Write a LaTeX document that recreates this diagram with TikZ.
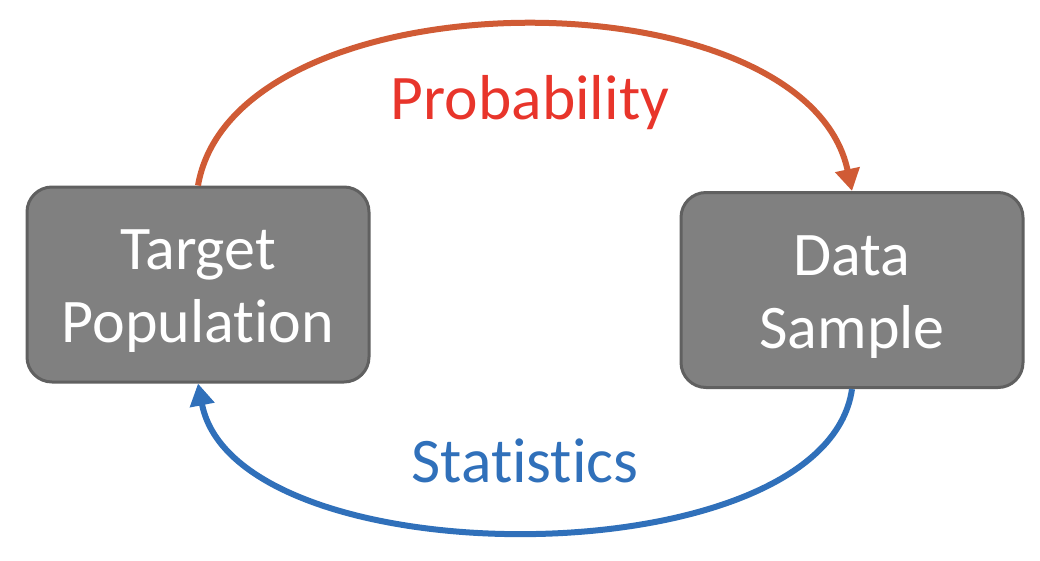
\documentclass[tikz,border=0pt]{standalone}
\usepackage{fontspec}
\setmainfont{Carlito}[Ligatures=NoCommon]
\usetikzlibrary{arrows.meta}
\definecolor{boxfill}{HTML}{808080}
\definecolor{boxdraw}{HTML}{606060}
\definecolor{probarrow}{HTML}{D05B35}
\definecolor{probtext}{HTML}{E8352B}
\definecolor{statblue}{HTML}{3070BA}
\begin{document}
\begin{tikzpicture}[x=1pt,y=-1pt,
  box/.style={draw=boxdraw,fill=boxfill,line width=3pt,rounded corners=25pt,
    minimum width=342pt,minimum height=195pt,inner sep=0pt},
  boxtext/.style={text=white,align=center,font=\fontsize{62}{73}\selectfont,inner sep=0pt},
  lbl/.style={font=\fontsize{63.5}{70}\selectfont,inner sep=0pt},
  conn/.style={line width=6pt,-{Triangle[length=22pt,width=24pt]}}]
\useasboundingbox (0,0) rectangle (1040,560);
\node[box] (L) at (198,284.5) {};
\node[box] (R) at (852,290) {};
\node[boxtext] (Lt) at (198,291) {Target\\Population};
\node[boxtext] (Rt) at (852,297) {Data\\Sample};
\node[lbl,text=probtext] (prob) at (530,103) {Probability};
\node[lbl,text=statblue] (stat) at (525,461) {Statistics};
\draw[conn,draw=probarrow] (L.north) .. controls (235,-28) and (805,-30) .. (R.north);
\draw[conn,draw=statblue] (R.south) .. controls (825,580) and (236,580) .. (L.south);
\end{tikzpicture}
\end{document}
